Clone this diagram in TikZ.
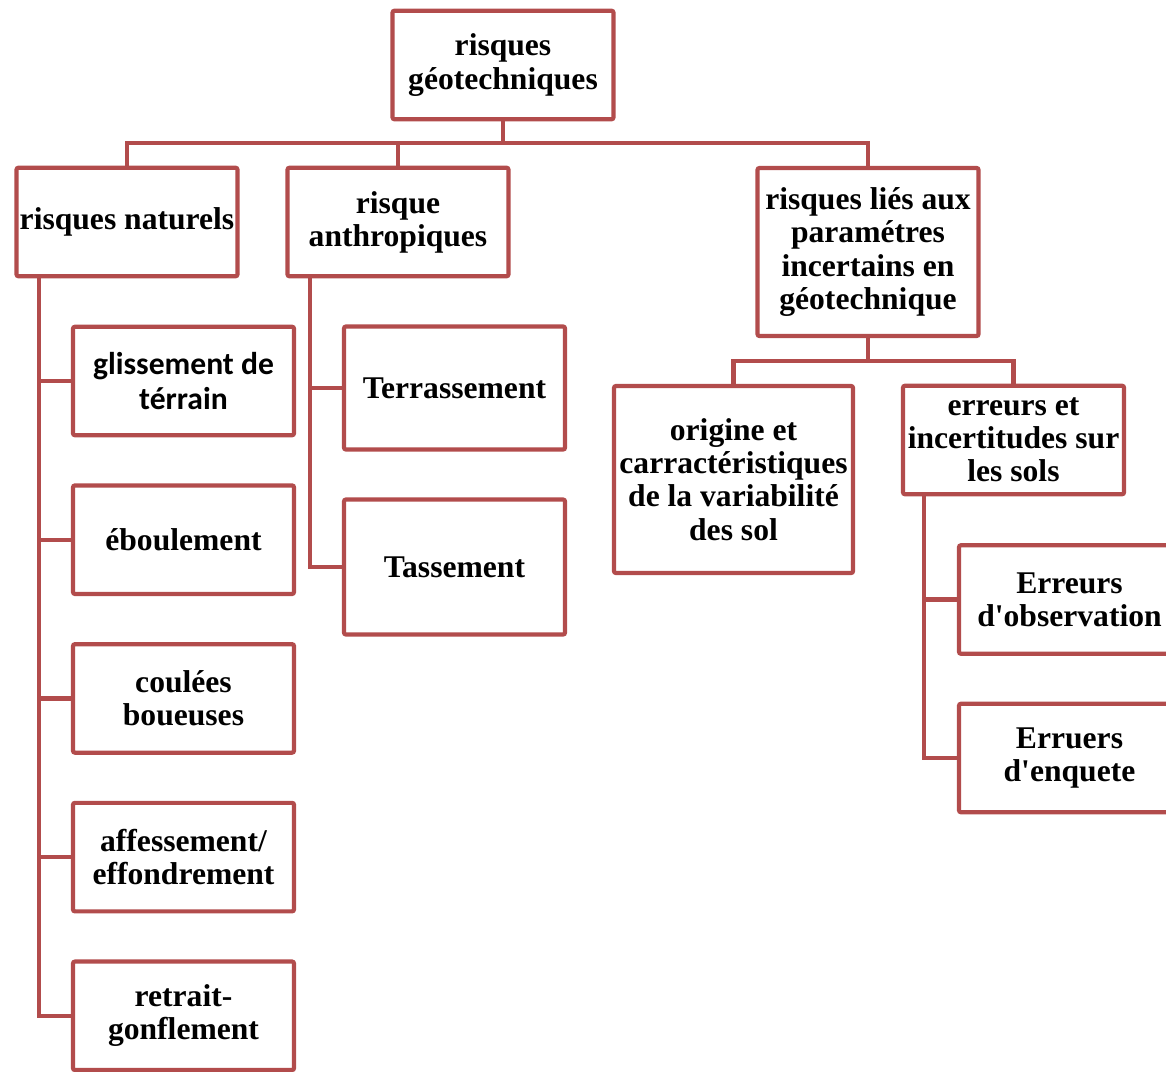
\documentclass[tikz,border=0pt]{standalone}
\usepackage{fontspec}
\setmainfont{Liberation Serif}[Ligatures=TeXOff]
\newfontfamily\calibrifont{Carlito}
\usetikzlibrary{positioning}
\definecolor{boxred}{RGB}{178,76,76}
\tikzset{
  box/.style={rectangle, rounded corners=1pt, draw=boxred, line width=2.1pt,
              fill=white, inner sep=0pt, align=center,
              minimum width=110.5pt, minimum height=54.25pt,
              font=\fontsize{15.8}{16.6}\selectfont\bfseries},
  link/.style={draw=boxred, line width=2.1pt},
}
\begin{document}
\begin{tikzpicture}[x=0.5pt, y=-0.5pt, node distance=23pt]
  \useasboundingbox (0,0) rectangle (1166,1071);
  % level 0 and 1
  \node[box] (top) at (503,65) {risques\\g\'eotechniques};
  \node[box] (nat) at (127,222) {risques naturels};
  \node[box] (anth) at (398,222) {risque\\anthropiques};
  \node[box, minimum height=84pt] (inc) at (868,252) {risques li\'es aux\\param\'etres\\incertains en\\g\'eotechnique};
  % natural risks
  \node[box, font=\fontsize{15.8}{17.5}\selectfont\calibrifont\bfseries] (gl) at (183.5,381) {glissement de\\t\'errain};
  \node[box, below=of gl] (eb) {\'eboulement};
  \node[box, below=of eb] (co) {coul\'ees\\boueuses};
  \node[box, below=of co] (af) {affessement/\\effondrement};
  \node[box, below=of af] (ret) {retrait-\\gonflement};
  % human risks
  \node[box, minimum height=61.5pt] (terr) at (454.5,388) {Terrassement};
  \node[box, minimum height=67.5pt] (tass) at (454.5,567) {Tassement};
  % uncertain parameters
  \node[box, minimum width=119.5pt, minimum height=93.5pt] (orig) at (733.5,479.5) {origine et\\carract\'eristiques\\de la variabilit\'e\\des sol};
  \node[box] (err) at (1013.5,440) {erreurs et\\incertitudes sur\\les sols};
  \node[box] (obs) at (1069.5,599.5) {Erreurs\\d'observation};
  \node[box] (enq) at (1069.5,758) {Erruers\\d'enquete};

  % connectors
  \coordinate (bus) at (0,143);
  \coordinate (bus2) at (0,361);
  \coordinate (spA) at (39,0);
  \coordinate (spB) at (310,0);
  \coordinate (spC) at (924,0);
  \draw[link] (top.south) -- (top.south |- bus);
  \draw[link] (nat.north) -- (nat.north |- bus) -- (inc.north |- bus) -- (inc.north);
  \draw[link] (anth.north) -- (anth.north |- bus);
  \draw[link] (nat.south -| spA) |- (ret.west);
  \foreach \n in {gl, eb, co, af}
    \draw[link] (spA |- \n.west) -- (\n.west);
  \draw[link] (anth.south -| spB) |- (tass.west);
  \draw[link] (spB |- terr.west) -- (terr.west);
  \draw[link] (inc.south) -- (inc.south |- bus2);
  \draw[link] (orig.north) -- (orig.north |- bus2) -- (err.north |- bus2) -- (err.north);
  \draw[link] (err.south -| spC) |- (enq.west);
  \draw[link] (spC |- obs.west) -- (obs.west);
\end{tikzpicture}
\end{document}
